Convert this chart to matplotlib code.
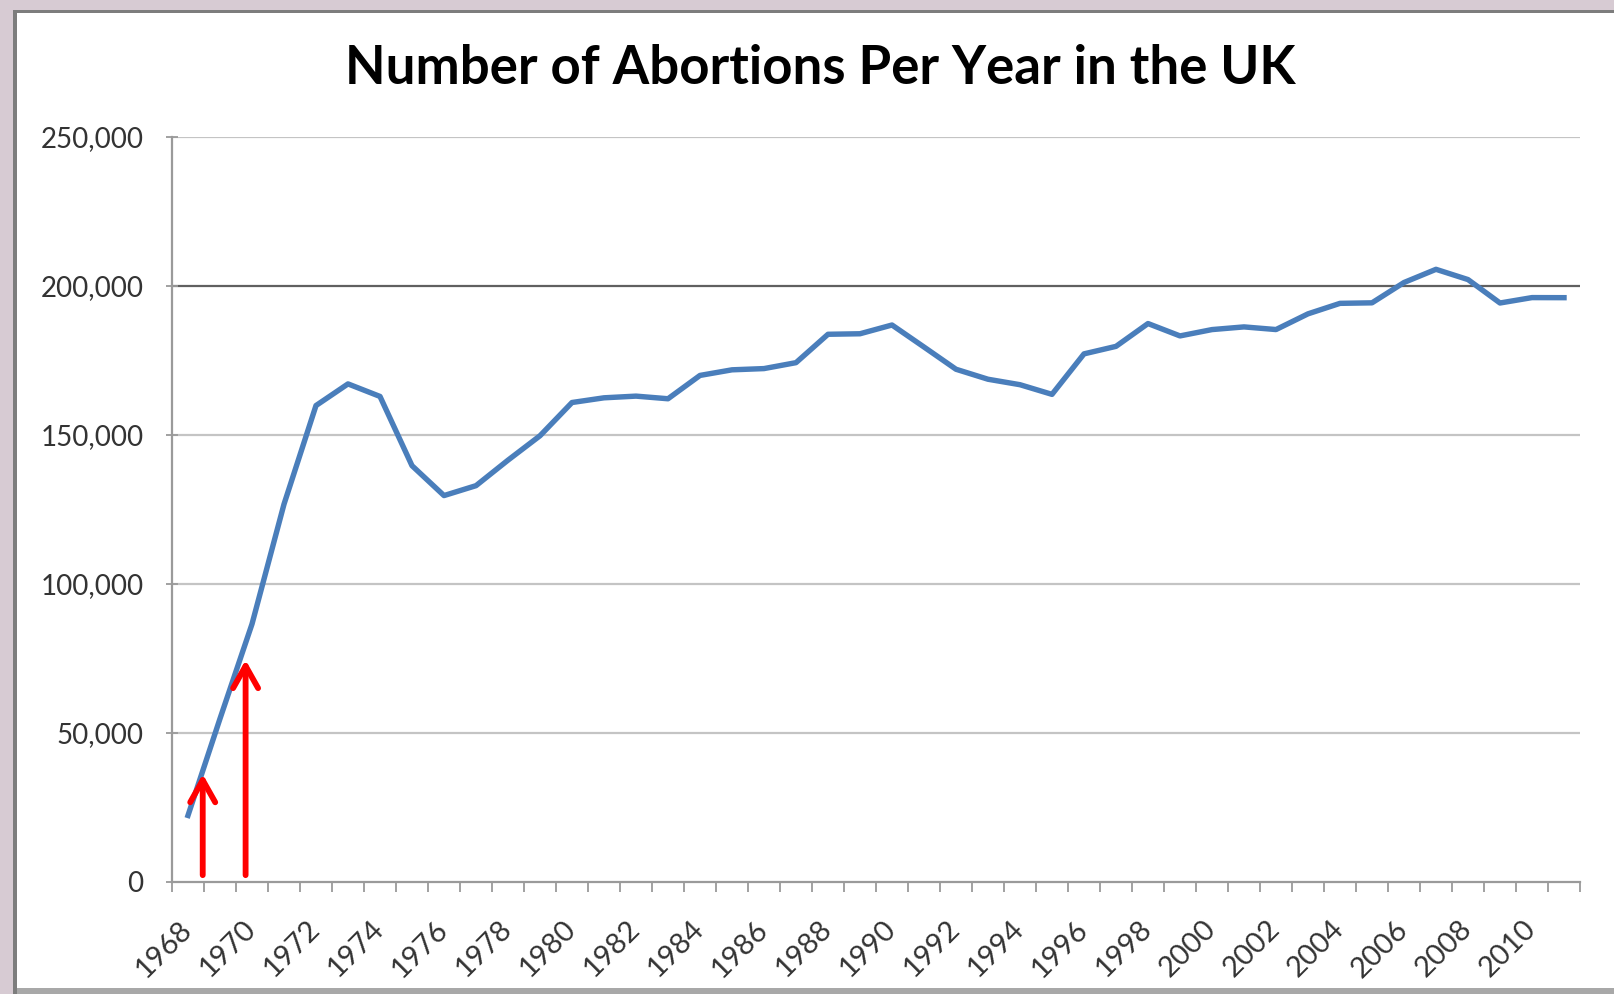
import matplotlib
matplotlib.use('Agg')
from matplotlib import pyplot as plt
from matplotlib.patches import Rectangle
from matplotlib.ticker import FuncFormatter, FixedLocator
from matplotlib.transforms import ScaledTranslation

plt.rcParams['font.family'] = ['Lato', 'DejaVu Sans']

# abortions per year, 1968-2011
years = list(range(1968, 2012))
abortions = [22332, 54819, 86565, 126777, 159884, 167149, 162940, 139702,
             129673, 132999, 141558, 149746, 160903, 162480, 163045, 162161,
             169993, 171873, 172286, 174276, 183798, 183974, 186912, 179522,
             172063, 168711, 166876, 163638, 177225, 179746, 187402, 183250,
             185375, 186274, 185385, 190660, 194179, 194353, 201173, 205598,
             202158, 194296, 196109, 196082]
tick_labels = [str(y) for y in years[::2]]
y_ticks = [0, 50000, 100000, 150000, 200000, 250000]

# red arrows (category position, start value, tip value)
arrows = [(0.46, 2300, 36200), (1.80, 2300, 74500)]

W, H = 1614, 994
fig = plt.figure(figsize=(W / 100, H / 100), dpi=100, facecolor='#d7cbd3')

# white "chart area" with grey frame lines (behind the axes)
def box(x0, y0, w, h, c):
    fig.add_artist(Rectangle((x0 / W, y0 / H), w / W, h / H, transform=fig.transFigure,
                             facecolor=c, edgecolor='none', zorder=-5))

box(16, 6, W - 16, H - 18, 'white')
box(13, 0, 4, H - 10, '#7d7d7d')
box(13, H - 13, W - 13, 3, '#7d7d7d')
box(17, 0, W - 17, 6, '#a8a8a8')

ax = fig.add_axes([172 / W, 1 - 882 / H, (1580 - 172) / W, (882 - 137) / H])
ax.set_facecolor('white')

x = list(range(len(years)))
ax.plot(x, abortions, color='#4a7ebb', lw=3.9, solid_joinstyle='round', zorder=3)

for xa, y0, y1 in arrows:
    ax.annotate('', xy=(xa, y1), xytext=(xa, y0),
                arrowprops=dict(arrowstyle='->,head_length=0.8,head_width=0.45',
                                color='#ff0000', lw=4.2, mutation_scale=20,
                                shrinkA=0, shrinkB=0), zorder=4)

ax.set_xlim(-0.5, len(years) - 0.5)
ax.set_ylim(0, 250000)

ax.set_yticks(y_ticks)
ax.yaxis.set_major_formatter(FuncFormatter(lambda v, p: '{:,.0f}'.format(v)))
for v in y_ticks[1:]:
    ax.axhline(v, color='#606060' if v == 200000 else '#c4c4c4', lw=1.6, zorder=1)

ax.xaxis.set_major_locator(FixedLocator(x[::2]))
ax.set_xticklabels(tick_labels, rotation=45, ha='right', va='center',
                   rotation_mode='anchor')
shift = ScaledTranslation(4 / 72, 0, fig.dpi_scale_trans)
for lab in ax.get_xticklabels():
    lab.set_transform(lab.get_transform() + shift)
ax.xaxis.set_minor_locator(FixedLocator([i - 0.5 for i in range(len(years) + 1)]))
ax.tick_params(axis='x', which='major', length=0, pad=31, labelsize=21, labelcolor='#333333')
ax.tick_params(axis='x', which='minor', length=7, width=1.3, color='#9a9a9a', direction='out')
ax.tick_params(axis='y', length=9, width=1.3, color='#9a9a9a', direction='inout',
               pad=16, labelsize=20, labelcolor='#333333')

for s in ['top', 'right']:
    ax.spines[s].set_visible(False)
for s in ['left', 'bottom']:
    ax.spines[s].set_color('#9a9a9a')
    ax.spines[s].set_linewidth(1.6)

fig.text(820 / W, 1 - 69 / H, 'Number of Abortions Per Year in the UK',
         ha='center', va='center', fontsize=38, fontweight='bold', color='black')

plt.savefig('out.png', dpi=100, facecolor=fig.get_facecolor())
